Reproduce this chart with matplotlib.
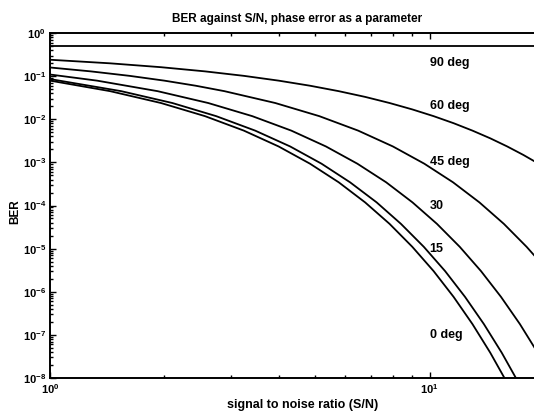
import matplotlib
matplotlib.use('Agg')
import matplotlib.pyplot as plt
from matplotlib.ticker import LogLocator, NullFormatter

plt.rcParams['font.family'] = ['Liberation Sans', 'DejaVu Sans']
plt.rcParams['font.weight'] = 'bold'
plt.rcParams['mathtext.fontset'] = 'custom'
plt.rcParams['mathtext.rm'] = 'Liberation Sans:bold'
plt.rcParams['mathtext.bf'] = 'Liberation Sans:bold'

# values, S/N (linear) against BER
snr_0 = [1.00, 1.44, 1.96, 2.56, 3.24, 4.00, 4.84, 5.76, 6.76, 7.84, 9.00,
         10.24, 11.56, 12.96, 14.44, 16.00, 17.64]
ber_0 = [7.86e-2, 4.48e-2, 2.38e-2, 1.18e-2, 5.45e-3, 2.34e-3, 9.31e-4, 3.45e-4,
         1.18e-4, 3.75e-5, 1.10e-5, 3.01e-6, 7.6e-7, 1.78e-7, 3.85e-8, 7.7e-9, 1.43e-9]

snr_15 = [1.00, 1.54, 2.10, 2.74, 3.47, 4.29, 5.19, 6.17, 7.25, 8.40, 9.65,
          10.98, 12.39, 13.89, 15.48, 17.15, 18.91]
ber_15 = [8.55e-2, 4.48e-2, 2.38e-2, 1.18e-2, 5.45e-3, 2.34e-3, 9.31e-4, 3.45e-4,
          1.18e-4, 3.75e-5, 1.10e-5, 3.01e-6, 7.6e-7, 1.78e-7, 3.85e-8, 7.7e-9, 1.43e-9]

snr_30 = [1.00, 1.33, 1.92, 2.61, 3.41, 4.32, 5.33, 6.45, 7.68, 9.01, 10.45,
          12.00, 13.65, 15.41, 17.28, 19.25, 20.00]
ber_30 = [1.09e-1, 7.86e-2, 4.48e-2, 2.38e-2, 1.18e-2, 5.45e-3, 2.34e-3, 9.31e-4,
          3.45e-4, 1.18e-4, 3.75e-5, 1.10e-5, 3.01e-6, 7.6e-7, 1.78e-7, 3.85e-8, 2.16e-8]

snr_45 = [1.00, 1.28, 1.62, 2.00, 2.42, 2.88, 3.92, 5.12, 6.48, 8.00, 9.68,
          11.52, 13.52, 15.68, 18.00, 20.00]
ber_45 = [1.587e-1, 1.289e-1, 1.015e-1, 7.86e-2, 5.99e-2, 4.48e-2, 2.38e-2, 1.18e-2,
          5.45e-3, 2.34e-3, 9.31e-4, 3.45e-4, 1.18e-4, 3.75e-5, 1.10e-5, 3.87e-6]

snr_60 = [1.00, 1.44, 1.96, 2.56, 3.24, 4.00, 4.84, 5.76, 6.76, 7.84, 9.00,
          10.24, 11.56, 12.96, 14.44, 16.00, 17.64, 19.36, 20.00]
ber_60 = [2.398e-1, 1.981e-1, 1.611e-1, 1.289e-1, 1.015e-1, 7.86e-2, 5.99e-2, 4.48e-2,
          3.30e-2, 2.38e-2, 1.69e-2, 1.18e-2, 8.1e-3, 5.45e-3, 3.61e-3, 2.34e-3,
          1.49e-3, 9.31e-4, 7.8e-4]

snr_90 = [1.00, 20.00]
ber_90 = [0.5, 0.5]

curve_labels = ['90 deg', '60 deg', '45 deg', '30', '15', '0 deg']
label_ber = [2e-1, 2e-2, 1e-3, 1e-4, 1e-5, 1e-7]

W, H = 534, 412
fig = plt.figure(figsize=(W / 100, H / 100), dpi=100)
# the right edge of the axes sits past the picture, as in the scan
ax = fig.add_axes([50 / W, 34 / H, 494 / W, 345 / H])

for x, y in [(snr_0, ber_0), (snr_15, ber_15), (snr_30, ber_30),
             (snr_45, ber_45), (snr_60, ber_60), (snr_90, ber_90)]:
    ax.loglog(x, y, color='k', lw=1.3)

ax.set_xlim(1, 20)
ax.set_ylim(1e-8, 1)

yt = list(range(-8, 1))
ax.set_yticks([10.0 ** k for k in yt])
ax.set_yticklabels([r'$10^{%d}$' % k for k in yt])
ax.set_xticks([1, 10])
ax.set_xticklabels([r'$10^{0}$', r'$10^{1}$'])
ax.xaxis.set_minor_locator(LogLocator(base=10, subs=range(2, 10)))
ax.yaxis.set_minor_locator(LogLocator(base=10, subs=range(2, 10), numticks=20))
ax.xaxis.set_minor_formatter(NullFormatter())
ax.yaxis.set_minor_formatter(NullFormatter())
ax.tick_params(which='both', direction='in', top=True, right=True,
               labelsize=8, width=1.0, color='k')
ax.tick_params(which='major', length=4, pad=3)
ax.tick_params(which='minor', length=2)
for s in ax.spines.values():
    s.set_linewidth(1.4)

for lab, yv in zip(curve_labels, label_ber):
    ax.text(10, yv, lab, fontsize=9, fontweight='bold', ha='left', va='center')

fig.text(297 / W, 1 - 19 / H, 'BER against S/N, phase error as a parameter',
         fontsize=8.5, fontweight='bold', ha='center', va='center')
fig.text(303 / W, 1 - 405 / H, 'signal to noise ratio (S/N)',
         fontsize=9, fontweight='bold', ha='center', va='center')
fig.text(15 / W, 1 - 212 / H, 'BER', fontsize=8.5, fontweight='bold',
         rotation=90, ha='center', va='center')

fig.savefig('out.png', dpi=100)
